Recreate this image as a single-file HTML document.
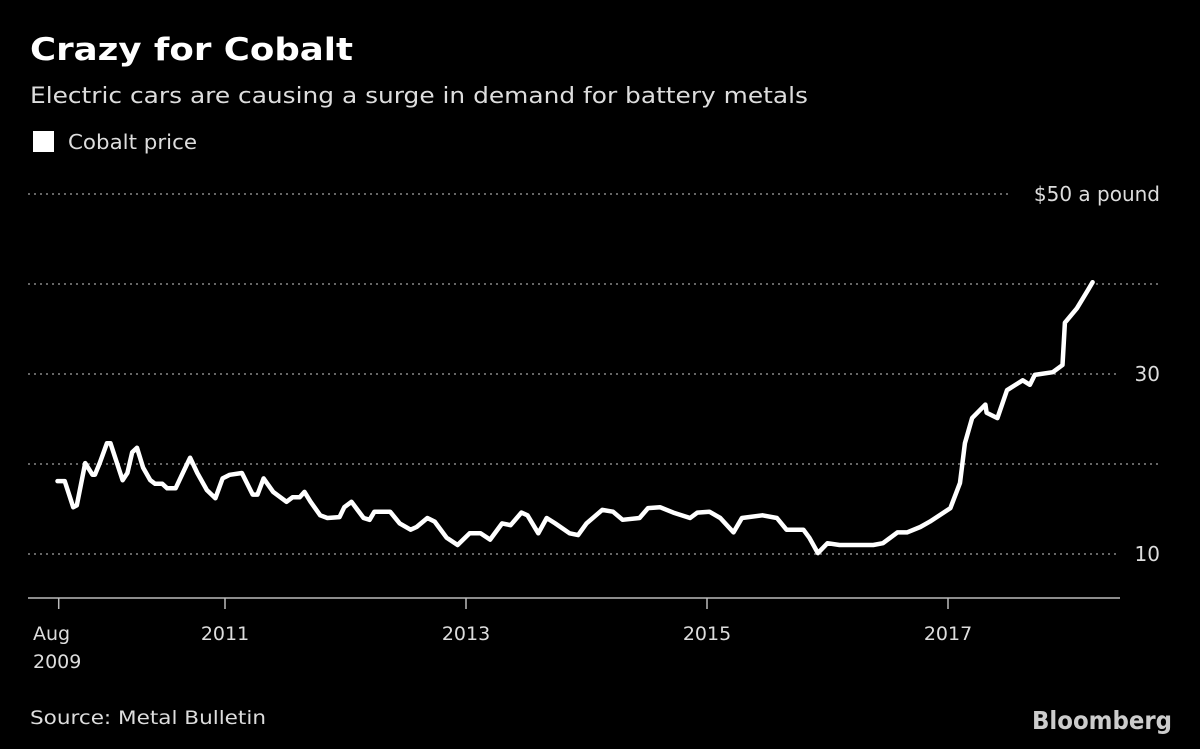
<!DOCTYPE html>
<html><head><meta charset="utf-8"><style>
body{margin:0;background:#000;width:1200px;height:749px;overflow:hidden;font-family:"DejaVu Sans","Liberation Sans",sans-serif;color:#fff}
svg{position:absolute;left:0;top:0}
</style></head><body>
<svg width="1200" height="749">
<text x="30" y="60" font-size="31" font-weight="bold" fill="#fff" textLength="323" lengthAdjust="spacingAndGlyphs">Crazy for Cobalt</text>
<text x="30" y="103" font-size="22" fill="#ddd" textLength="778" lengthAdjust="spacingAndGlyphs">Electric cars are causing a surge in demand for battery metals</text>
<rect x="33" y="131" width="21" height="21" fill="#fff"/>
<text x="68" y="149" font-size="20" fill="#ddd" textLength="129" lengthAdjust="spacingAndGlyphs">Cobalt price</text>
<g id="grid"></g><g id="axis"></g>
<path id="line" fill="none" stroke="#fff" stroke-width="4.5" stroke-linejoin="round" stroke-linecap="round"/>
<text x="30" y="724" font-size="19" fill="#ddd" textLength="236" lengthAdjust="spacingAndGlyphs">Source: Metal Bulletin</text>
<text x="1032" y="729" font-size="25" font-weight="bold" fill="#ccc" textLength="140" lengthAdjust="spacingAndGlyphs">Bloomberg</text>
</svg>
<script>
const dates=[2009.61,2009.67,2009.74,2009.77,2009.84,2009.90,2009.92,2009.96,2010.02,2010.05,2010.15,2010.19,2010.23,2010.27,2010.32,2010.38,2010.42,2010.48,2010.52,2010.59,2010.65,2010.71,2010.77,2010.85,2010.92,2010.98,2011.04,2011.14,2011.23,2011.27,2011.32,2011.40,2011.51,2011.56,2011.62,2011.66,2011.71,2011.79,2011.85,2011.95,2011.99,2012.05,2012.10,2012.15,2012.20,2012.24,2012.37,2012.45,2012.54,2012.59,2012.68,2012.74,2012.84,2012.93,2013.03,2013.12,2013.20,2013.30,2013.37,2013.46,2013.51,2013.60,2013.67,2013.74,2013.86,2013.93,2014.00,2014.13,2014.22,2014.30,2014.44,2014.51,2014.61,2014.72,2014.86,2014.92,2015.02,2015.11,2015.22,2015.29,2015.46,2015.58,2015.66,2015.80,2015.85,2015.92,2016.00,2016.10,2016.38,2016.46,2016.58,2016.66,2016.77,2016.85,2016.93,2017.02,2017.10,2017.14,2017.20,2017.31,2017.32,2017.41,2017.49,2017.62,2017.68,2017.72,2017.87,2017.95,2017.97,2018.07,2018.16,2018.20];
const prices=[18.1,18.1,15.2,15.4,20.1,18.8,18.8,20.1,22.3,22.3,18.2,19.0,21.3,21.8,19.6,18.2,17.8,17.8,17.3,17.3,19.0,20.7,19.0,17.1,16.2,18.4,18.8,19.0,16.6,16.6,18.4,16.9,15.8,16.3,16.3,16.9,15.8,14.3,14.0,14.1,15.2,15.8,14.9,14.0,13.8,14.7,14.7,13.4,12.7,13.0,14.0,13.6,11.8,11.0,12.3,12.3,11.6,13.4,13.2,14.6,14.3,12.3,14.0,13.4,12.3,12.1,13.4,14.9,14.7,13.8,14.0,15.1,15.2,14.6,14.0,14.6,14.7,14.0,12.4,14.0,14.3,14.0,12.7,12.7,11.8,10.1,11.2,11.0,11.0,11.2,12.4,12.4,13.0,13.6,14.3,15.1,17.9,22.3,25.1,26.6,25.7,25.1,28.2,29.3,28.8,29.9,30.2,31.0,35.7,37.3,39.3,40.2];
const yTicks=[10,20,30,40,50];
const yLabels=["10","","30","","$50 a pound"];
const xTicks=[2009.62,2011,2013,2015,2017];
const xLabels=[["Aug","2009"],["2011"],["2013"],["2015"],["2017"]];
const X=t=>225+(t-2011)*120.5;
const Y=v=>554-(v-10)*9;
const NS="http://www.w3.org/2000/svg";
const grid=document.getElementById('grid'),axis=document.getElementById('axis');
yTicks.forEach((v,i)=>{
  const l=document.createElementNS(NS,'line');
  
  
  const end=yLabels[i]===""?1160:(yLabels[i].length>3?1012:1118);
  l.setAttribute('x1',28);l.setAttribute('x2',end);l.setAttribute('y1',Y(v));l.setAttribute('y2',Y(v));
  l.setAttribute('stroke','#888');l.setAttribute('stroke-width',1.5);l.setAttribute('stroke-dasharray','2 4');
  grid.appendChild(l);
  if(yLabels[i]){const t=document.createElementNS(NS,'text');
  
  
  t.setAttribute('x',1160);t.setAttribute('y',Y(v)+7);t.setAttribute('text-anchor','end');t.setAttribute('font-size',20);t.setAttribute('fill','#ddd');
  t.textContent=yLabels[i];grid.appendChild(t);}
});
const base=document.createElementNS(NS,'line');


base.setAttribute('x1',28);base.setAttribute('x2',1120);base.setAttribute('y1',598);base.setAttribute('y2',598);base.setAttribute('stroke','#bbb');base.setAttribute('stroke-width',1.5);
axis.appendChild(base);
xTicks.forEach((d,i)=>{
  const l=document.createElementNS(NS,'line');
  
  
  l.setAttribute('x1',X(d));l.setAttribute('x2',X(d));l.setAttribute('y1',598);l.setAttribute('y2',609);l.setAttribute('stroke','#bbb');l.setAttribute('stroke-width',1.5);
  axis.appendChild(l);
  xLabels[i].forEach((s,j)=>{const t=document.createElementNS(NS,'text');
  
  
  t.setAttribute('x',i===0?33:X(d));t.setAttribute('y',640+j*28);t.setAttribute('text-anchor',i===0?'start':'middle');t.setAttribute('font-size',19);t.setAttribute('fill','#ddd');
  t.textContent=s;axis.appendChild(t);});
});
document.getElementById('line').setAttribute('d',dates.map((d,i)=>(i?'L':'M')+X(d).toFixed(1)+','+Y(prices[i]).toFixed(1)).join(''));
</script>
</body></html>
